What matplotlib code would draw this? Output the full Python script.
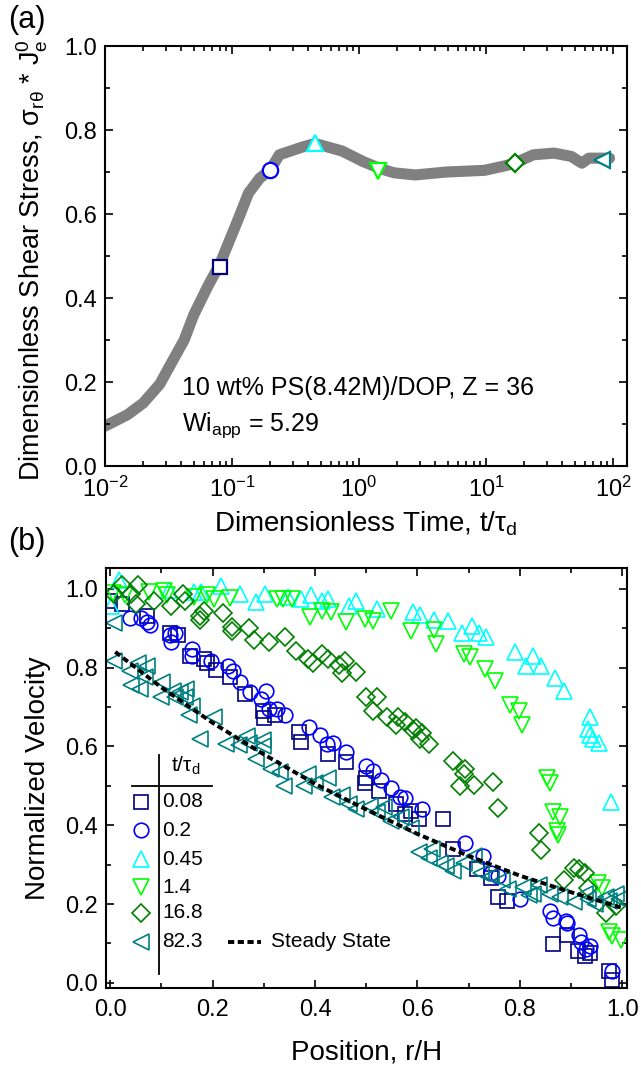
import matplotlib.pyplot as plt
import numpy as np

plt.rcParams['font.family'] = ['Liberation Sans', 'DejaVu Sans']
plt.rcParams['mathtext.fontset'] = 'custom'
plt.rcParams['mathtext.rm'] = 'Liberation Sans'
plt.rcParams['mathtext.it'] = 'Liberation Sans:italic'
plt.rcParams['mathtext.bf'] = 'Liberation Sans:bold'

# ---- panel (a): stress growth curve ----
t_curve = [0.01, 0.015, 0.02, 0.027, 0.034, 0.042, 0.05, 0.065, 0.08, 0.095, 0.111, 0.135, 0.165,
           0.2, 0.236, 0.346, 0.45, 0.736, 1.076, 1.475, 1.896, 2.77, 4.88, 9.75, 14.2, 16.8,
           23.6, 34.4, 47.1, 56.9, 64.6, 82.3, 94]
s_curve = [0.095, 0.122, 0.15, 0.195, 0.25, 0.3, 0.36, 0.43, 0.48, 0.535, 0.585, 0.65, 0.685,
           0.705, 0.741, 0.758, 0.768, 0.75, 0.725, 0.708, 0.698, 0.693, 0.70, 0.704, 0.715,
           0.721, 0.741, 0.745, 0.737, 0.721, 0.733, 0.733, 0.733]

labels = ['0.08', '0.2', '0.45', '1.4', '16.8', '82.3']
marks = ['s', 'o', '^', 'v', 'D', '<']
colors = ['#000080', '#0000ff', '#00ffff', '#00ff00', '#008000', '#008080']
sizes = [9.5, 10.5, 11, 11, 9, 11]
t_marks = [0.08, 0.2, 0.45, 1.4, 16.8, 82.3]
s_marks = [0.475, 0.705, 0.768, 0.702, 0.721, 0.729]

# ---- panel (b): velocity profiles ----
x_sq = [0.0, 0.024, 0.072, 0.116, 0.132, 0.156, 0.183, 0.19, 0.207, 0.234, 0.264, 0.298, 0.301,
        0.321, 0.369, 0.372, 0.426, 0.46, 0.497, 0.5, 0.524, 0.558, 0.575, 0.588, 0.602, 0.649,
        0.669, 0.717, 0.744, 0.757, 0.774, 0.865, 0.892, 0.913, 0.926, 0.936, 0.973, 0.98]
y_sq = [0.97, 0.962, 0.931, 0.887, 0.883, 0.83, 0.821, 0.812, 0.795, 0.777, 0.733, 0.69, 0.672,
        0.681, 0.636, 0.612, 0.582, 0.56, 0.508, 0.521, 0.486, 0.455, 0.428, 0.437, 0.415, 0.415,
        0.341, 0.288, 0.266, 0.218, 0.209, 0.099, 0.121, 0.081, 0.068, 0.077, 0.029, 0.007]

x_ci = [0.038, 0.061, 0.072, 0.078, 0.116, 0.119, 0.126, 0.159, 0.159, 0.197, 0.23, 0.24, 0.254,
        0.274, 0.295, 0.305, 0.311, 0.325, 0.342, 0.389, 0.409, 0.423, 0.436, 0.46, 0.5, 0.514,
        0.528, 0.548, 0.565, 0.575, 0.609, 0.693, 0.727, 0.744, 0.757, 0.801, 0.859, 0.865, 0.889,
        0.892, 0.916, 0.919, 0.936, 0.929, 0.98]
y_ci = [0.927, 0.927, 0.915, 0.909, 0.883, 0.865, 0.887, 0.848, 0.83, 0.817, 0.804, 0.791, 0.764,
        0.738, 0.72, 0.742, 0.694, 0.694, 0.681, 0.649, 0.628, 0.607, 0.609, 0.587, 0.551, 0.538,
        0.516, 0.494, 0.472, 0.468, 0.442, 0.354, 0.323, 0.279, 0.27, 0.213, 0.182, 0.165, 0.156,
        0.152, 0.121, 0.104, 0.094, 0.086, 0.029]

x_up = [0.001, 0.018, 0.115, 0.163, 0.177, 0.217, 0.254, 0.284, 0.303, 0.348, 0.372, 0.392, 0.413,
        0.426, 0.466, 0.48, 0.521, 0.591, 0.605, 0.632, 0.659, 0.686, 0.706, 0.72, 0.733, 0.791,
        0.811, 0.825, 0.842, 0.869, 0.885, 0.936, 0.933, 0.943, 0.937, 0.955, 0.977]
y_up = [0.957, 1.023, 0.997, 0.993, 0.993, 1.006, 0.988, 0.967, 0.986, 0.98, 0.973, 0.984, 0.968,
        0.973, 0.957, 0.968, 0.949, 0.94, 0.933, 0.922, 0.918, 0.887, 0.905, 0.887, 0.878, 0.839,
        0.804, 0.83, 0.804, 0.773, 0.74, 0.675, 0.645, 0.62, 0.63, 0.609, 0.459]

x_dn = [0.005, 0.03, 0.075, 0.105, 0.112, 0.163, 0.19, 0.203, 0.234, 0.325, 0.338, 0.355, 0.391,
        0.413, 0.431, 0.461, 0.497, 0.514, 0.549, 0.587, 0.632, 0.636, 0.69, 0.703, 0.731, 0.751,
        0.781, 0.798, 0.804, 0.852, 0.859, 0.865, 0.879, 0.872, 0.874, 0.953, 0.96, 0.973, 0.98,
        0.997]
y_dn = [0.99, 0.985, 0.992, 0.995, 0.985, 0.98, 0.984, 0.975, 0.977, 0.975, 0.973, 0.973, 0.929,
        0.944, 0.941, 0.915, 0.924, 0.918, 0.944, 0.894, 0.896, 0.861, 0.834, 0.827, 0.797, 0.766,
        0.704, 0.69, 0.655, 0.521, 0.508, 0.433, 0.42, 0.385, 0.376, 0.253, 0.24, 0.13, 0.12, 0.11]

x_di = [0.007, 0.024, 0.041, 0.055, 0.051, 0.085, 0.119, 0.143, 0.146, 0.183, 0.176, 0.176, 0.22,
        0.237, 0.238, 0.271, 0.281, 0.311, 0.342, 0.362, 0.386, 0.396, 0.413, 0.426, 0.446, 0.453,
        0.48, 0.459, 0.5, 0.521, 0.514, 0.541, 0.561, 0.575, 0.558, 0.592, 0.605, 0.622, 0.598,
        0.609, 0.669, 0.693, 0.69, 0.683, 0.71, 0.747, 0.757, 0.838, 0.842, 0.906, 0.916, 0.885,
        0.926, 0.933, 0.967, 0.987]
y_di = [0.988, 1.01, 0.988, 1.01, 0.962, 0.968, 0.956, 0.988, 0.968, 0.944, 0.931, 0.92, 0.938,
        0.903, 0.894, 0.9, 0.87, 0.865, 0.878, 0.843, 0.821, 0.812, 0.834, 0.821, 0.808, 0.786,
        0.789, 0.817, 0.725, 0.725, 0.69, 0.676, 0.676, 0.663, 0.655, 0.641, 0.619, 0.606, 0.648,
        0.635, 0.564, 0.543, 0.529, 0.499, 0.503, 0.509, 0.444, 0.38, 0.336, 0.292, 0.288, 0.261,
        0.279, 0.24, 0.178, 0.195]

x_lt = [0.007, 0.007, 0.038, 0.055, 0.072, 0.041, 0.058, 0.068, 0.102, 0.122, 0.136, 0.099, 0.126,
        0.149, 0.146, 0.159, 0.153, 0.203, 0.176, 0.227, 0.271, 0.298, 0.251, 0.268, 0.298, 0.284,
        0.315, 0.332, 0.339, 0.386, 0.399, 0.426, 0.379, 0.433, 0.453, 0.467, 0.48, 0.507, 0.521,
        0.534, 0.548, 0.588, 0.568, 0.602, 0.622, 0.643, 0.656, 0.669, 0.629, 0.69, 0.71, 0.723,
        0.744, 0.764, 0.777, 0.805, 0.825, 0.838, 0.859, 0.879, 0.906, 0.926, 0.946, 0.973, 0.994,
        0.818, 0.933, 0.967, 0.987]
y_lt = [0.914, 0.817, 0.791, 0.812, 0.804, 0.755, 0.747, 0.777, 0.764, 0.742, 0.738, 0.725, 0.725,
        0.747, 0.725, 0.703, 0.681, 0.675, 0.62, 0.606, 0.608, 0.6, 0.604, 0.626, 0.617, 0.569,
        0.543, 0.534, 0.499, 0.529, 0.508, 0.521, 0.499, 0.472, 0.477, 0.455, 0.442, 0.45, 0.433,
        0.446, 0.411, 0.393, 0.42, 0.332, 0.318, 0.305, 0.296, 0.283, 0.34, 0.305, 0.322, 0.279,
        0.27, 0.261, 0.239, 0.243, 0.226, 0.248, 0.226, 0.218, 0.204, 0.226, 0.2, 0.209, 0.213,
        0.222, 0.213, 0.218, 0.226]

x_ss = [0.01, 0.1, 0.2, 0.3, 0.4, 0.5, 0.6, 0.7, 0.8, 0.9, 1.0]
y_ss = [0.84, 0.75, 0.66, 0.58, 0.505, 0.44, 0.378, 0.322, 0.272, 0.23, 0.19]

xs = [x_sq, x_ci, x_up, x_dn, x_di, x_lt]
ys = [y_sq, y_ci, y_up, y_dn, y_di, y_lt]


def style(ax):
    for s in ax.spines.values():
        s.set_linewidth(1.5)
    ax.tick_params(which='both', direction='in', top=True, right=True, width=1.2,
                   labelsize=17)
    ax.tick_params(which='major', length=6)
    ax.tick_params(which='minor', length=3.5)
    ax.tick_params(axis='x', pad=8)
    ax.tick_params(axis='y', pad=6)


fig = plt.figure(figsize=(6.41, 10.65), dpi=100)

ax1 = fig.add_axes([0.1638, 0.5624, 0.8144, 0.3944])
ax1.plot(t_curve, s_curve, color='#808080', lw=8, solid_capstyle='round',
         solid_joinstyle='round', zorder=1)
for t, s, m, c, ms in zip(t_marks, s_marks, marks, colors, sizes):
    ax1.plot(t, s, marker=m, ms=ms + 0.5, mfc='white', mec=c, mew=1.6, ls='none', zorder=3)
ax1.set_xscale('log')
ax1.set_xlim(0.01, 129)
ax1.set_ylim(0, 1.0)
ax1.set_yticks(np.arange(0, 1.01, 0.2))
ax1.set_yticks(np.arange(0.1, 1.0, 0.2), minor=True)
ax1.yaxis.set_major_formatter(plt.FormatStrFormatter('%.1f'))
style(ax1)
ax1.set_xlabel('Dimensionless Time, t/τ$_\\mathregular{d}$', fontsize=20, labelpad=5)
ax1.set_ylabel('Dimensionless Shear Stress, σ$_\\mathregular{rθ}$ * J$_\\mathregular{e}^\\mathregular{0}$',
               fontsize=19.5)
ax1.yaxis.set_label_coords(-0.105, 0.49)
ax1.text(0.148, 0.186, '10 wt% PS(8.42M)/DOP, Z = 36', transform=ax1.transAxes,
         fontsize=18, va='center')
ax1.text(0.148, 0.098, 'Wi$_\\mathregular{app}$ = 5.29', transform=ax1.transAxes,
         fontsize=18, va='center')

ax2 = fig.add_axes([0.1654, 0.0723, 0.8128, 0.3944])
for x, y, m, c, ms in zip(xs, ys, marks, colors, sizes):
    ax2.plot(x, y, marker=m, ms=ms, mfc='none', mec=c, mew=1.2, ls='none')
ax2.plot(x_ss, y_ss, color='black', lw=2.8, ls=(0, (1.6, 0.9)))
ax2.set_xlim(-0.008, 1.009)
ax2.set_ylim(-0.013, 1.053)
ax2.set_xticks(np.arange(0, 1.01, 0.2))
ax2.set_xticks(np.arange(0.1, 1.0, 0.2), minor=True)
ax2.set_yticks(np.arange(0, 1.01, 0.2))
ax2.set_yticks(np.arange(0.1, 1.0, 0.2), minor=True)
ax2.xaxis.set_major_formatter(plt.FormatStrFormatter('%.1f'))
ax2.yaxis.set_major_formatter(plt.FormatStrFormatter('%.1f'))
style(ax2)
ax2.set_xlabel('Position, r/H', fontsize=20, labelpad=13)
ax2.set_ylabel('Normalized Velocity', fontsize=20)
ax2.yaxis.set_label_coords(-0.105, 0.5)

# hand-made legend table
tr = ax2.transAxes
ax2.plot([0.1017, 0.1017], [0.033, 0.555], color='black', lw=1.3, transform=tr, clip_on=False)
ax2.plot([0.05, 0.204], [0.481, 0.481], color='black', lw=1.3, transform=tr, clip_on=False)
ax2.text(0.152, 0.529, 't/τ$_\\mathregular{d}$', transform=tr, fontsize=15, ha='center',
         va='center')
rows = [0.443, 0.376, 0.307, 0.240, 0.179, 0.110]
for fy, lab, m, c, ms in zip(rows, labels, marks, colors, sizes):
    ax2.plot(0.067, fy, marker=m, ms=ms, mfc='none', mec=c, mew=1.2, transform=tr)
    ax2.text(0.1075, fy, lab, transform=tr, fontsize=15, va='center')
ax2.plot([0.234, 0.298], [0.110, 0.110], color='black', lw=2.8, ls=(0, (1.6, 0.9)),
         transform=tr)
ax2.text(0.317, 0.110, 'Steady State', transform=tr, fontsize=15, va='center')

fig.text(0.012, 0.981, '(a)', fontsize=22, va='center')
fig.text(0.012, 0.491, '(b)', fontsize=22, va='center')

fig.savefig('out.png', dpi=100)
